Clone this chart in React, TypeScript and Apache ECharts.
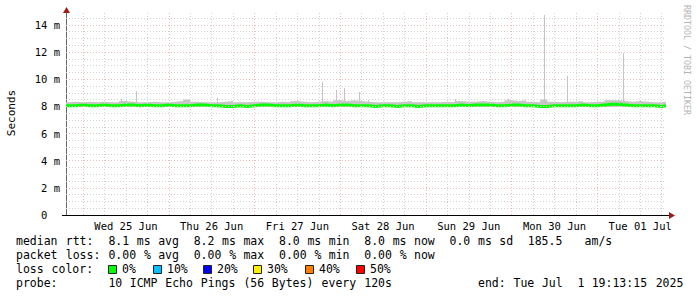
import React, { useEffect, useRef } from 'react';
import * as echarts from 'echarts';

// x values are hours since Tue 24 Jun 2025 00:00 (local)
const START_H = 19.2208; // Tue 24 Jun 19:13:15
const END_H = 187.2208; // Tue 01 Jul 19:13:15

// sample hours: start, every 2 h from 20 to 186, end
const sampleHours: number[] = [START_H];
for (let h = 20; h <= 186; h += 2) sampleHours.push(h);
sampleHours.push(END_H);

// median rtt (ms)
const medianMs = [
  8.05,
  8.05, 8.1, 8.05, 8.05, 8.1, 8.05, 8.05, 8.1, 8.1, 8.05,
  8.1, 8.05, 8.05, 8.1, 8.05, 8.05, 8.05, 8.1, 8.1, 8.05,
  8.05, 8.0, 8.0, 8.05, 8.0, 8.05, 8.1, 8.1, 8.05, 8.05,
  8.05, 8.1, 8.05, 8.05, 8.05, 8.1, 8.05, 8.1, 8.1, 8.05,
  8.05, 8.05, 8.0, 8.05, 8.05, 8.0, 8.05, 8.05, 8.0, 8.05,
  8.05, 8.05, 8.05, 8.05, 8.1, 8.05, 8.1, 8.1, 8.1, 8.05,
  8.05, 8.1, 8.1, 8.05, 8.05, 8.0, 8.0, 8.05, 8.05, 8.05,
  8.05, 8.1, 8.05, 8.05, 8.1, 8.15, 8.15, 8.1, 8.05, 8.05,
  8.05, 8.05, 8.0, 8.05,
  8.05,
];

// smoke (ping spread) upper edge (ms)
const smokeTopMs = [
  8.3,
  8.35, 8.3, 8.35, 8.3, 8.35, 8.3, 8.3, 8.4, 8.35, 8.3,
  8.3, 8.35, 8.3, 8.3, 8.35, 8.4, 8.5, 8.35, 8.3, 8.3,
  8.3, 8.35, 8.4, 8.3, 8.3, 8.35, 8.35, 8.3, 8.3, 8.35,
  8.3, 8.4, 8.35, 8.3, 8.35, 8.4, 8.35, 8.45, 8.4, 8.45,
  8.4, 8.35, 8.3, 8.3, 8.3, 8.3, 8.35, 8.4, 8.3, 8.3,
  8.3, 8.3, 8.35, 8.3, 8.4, 8.35, 8.35, 8.4, 8.35, 8.3,
  8.35, 8.45, 8.4, 8.45, 8.35, 8.3, 8.5, 8.35, 8.3, 8.35,
  8.35, 8.4, 8.3, 8.35, 8.35, 8.45, 8.45, 8.4, 8.35, 8.4,
  8.35, 8.3, 8.3, 8.35,
  8.3,
];

// smoke lower edge (ms), hidden under the median band
const SMOKE_FLOOR_MS = 7.95;

// isolated slow pings: [hour, ms]
const spikeHours = [34.6, 38.8, 61.5, 90.9, 94.8, 97.1, 101.3, 103.8, 128.1, 143.0, 153.1, 159.5, 175.2];
const spikeMs = [8.55, 9.14, 8.64, 9.8, 9.2, 9.36, 9.06, 8.47, 8.55, 8.55, 14.74, 10.24, 11.94];
const spikeBaseMs = 8.2;

const dayLabelHours = [36, 60, 84, 108, 132, 156, 180];
const dayLabels = ['Wed 25 Jun', 'Thu 26 Jun', 'Fri 27 Jun', 'Sat 28 Jun', 'Sun 29 Jun', 'Mon 30 Jun', 'Tue 01 Jul'];
const midnightHours = [24, 48, 72, 96, 120, 144, 168];
const yMajorTicks = [0, 2, 4, 6, 8, 10, 12, 14];
const Y_MAX = 14.88;

const legendLines = [
  'median rtt:  8.1 ms avg  8.2 ms max  8.0 ms min  8.0 ms now  0.0 ms sd  185.5   am/s',
  'packet loss: 0.00 % avg  0.00 % max  0.00 % min  0.00 % now',
  'loss color:',
  'probe:       10 ICMP Echo Pings (56 Bytes) every 120s            end: Tue Jul  1 19:13:15 2025',
];
const lossLabels = ['0%', '10%', '20%', '30%', '40%', '50%'];
const lossColors = ['#00ff00', '#00c0ff', '#0000ff', '#ffee00', '#ff8000', '#ff0000'];

const MONO = '"DejaVu Sans Mono", monospace';
const MINOR_GRID = '#d2d2d2';
const MAJOR_GRID = '#ebbcbc';

export default function App() {
  const ref = useRef<HTMLDivElement>(null);

  useEffect(() => {
    if (!ref.current) return;
    const chart = echarts.init(ref.current, null, { renderer: 'svg' });

    const minorV: number[] = [];
    for (let h = 24; h < END_H; h += 6) if (h % 24 !== 0) minorV.push(h);
    const minorH: number[] = [];
    for (let v = 0.5; v < Y_MAX; v += 0.5) if (v % 2 !== 0) minorH.push(v);

    const gridLines: any[] = [];
    minorV.forEach((h) => gridLines.push({ xAxis: h, lineStyle: { color: MINOR_GRID, type: [1, 2], width: 1 } }));
    minorH.forEach((v) => gridLines.push({ yAxis: v, lineStyle: { color: MINOR_GRID, type: [1, 2], width: 1 } }));
    midnightHours.forEach((h) => gridLines.push({ xAxis: h, lineStyle: { color: MAJOR_GRID, type: [1, 2], width: 1 } }));
    yMajorTicks.filter((v) => v > 0).forEach((v) => gridLines.push({ yAxis: v, lineStyle: { color: MAJOR_GRID, type: [1, 2], width: 1 } }));

    const smokeData = sampleHours.map((h, i) => [h, smokeTopMs[i]]);
    const medData = sampleHours.map((h, i) => [h, medianMs[i]]);
    const spikeLines = spikeHours.map((h, i) => [{ coord: [h, spikeBaseMs] }, { coord: [h, spikeMs[i]] }]);

    const CW = 7.107;
    const LX = 16;
    const lineY = [241, 255, 269, 283];
    const textEls: any[] = [];
    legendLines.forEach((str, li) => {
      const re = /\S+/g;
      let m: RegExpExecArray | null;
      while ((m = re.exec(str))) {
        textEls.push({
          type: 'text',
          x: LX + m.index * CW,
          y: lineY[li],
          silent: true,
          style: { text: m[0], font: `11.5px ${MONO}`, fill: '#000', textAlign: 'left', textVerticalAlign: 'middle', align: 'left', verticalAlign: 'middle' },
        });
      }
    });
    const boxX = [108, 153, 203, 253, 305, 356];
    lossLabels.forEach((lab, i) => {
      textEls.push({ type: 'rect', shape: { x: boxX[i] + 0.5, y: 265.5, width: 8, height: 8 }, silent: true, style: { fill: lossColors[i], stroke: '#222', lineWidth: 1 } });
      textEls.push({
        type: 'text', x: boxX[i] + 14, y: 269, silent: true,
        style: { text: lab, font: `11.5px ${MONO}`, fill: '#000', textAlign: 'left', textVerticalAlign: 'middle', align: 'left', verticalAlign: 'middle' },
      });
    });

    chart.setOption({
      animation: false,
      backgroundColor: '#ffffff',
      grid: { left: 66, right: 31, top: 13, bottom: 82, containLabel: false },
      xAxis: {
        type: 'value',
        min: START_H,
        max: END_H,
        axisLine: { show: true, lineStyle: { color: '#000', width: 1 } },
        axisTick: { show: false },
        splitLine: { show: false },
        axisLabel: {
          customValues: dayLabelHours,
          formatter: (v: number) => dayLabels[Math.round((v - 36) / 24)] ?? '',
          fontFamily: MONO,
          fontSize: 10.5,
          color: '#000',
          margin: 5,
        },
      },
      yAxis: {
        type: 'value',
        min: 0,
        max: Y_MAX,
        axisLine: { show: true, lineStyle: { color: '#666', width: 1 } },
        axisTick: { show: false },
        splitLine: { show: false },
        axisLabel: {
          customValues: yMajorTicks,
          formatter: (v: number) => (v === 0 ? '0\u00a0\u00a0' : `${v} m`),
          fontFamily: MONO,
          fontSize: 10.5,
          color: '#000',
          margin: 6,
        },
      },
      series: [
        {
          name: 'grid', type: 'line', data: [], z: 1, silent: true,
          markLine: { silent: true, symbol: ['none', 'none'], label: { show: false }, animation: false, data: gridLines },
        },
        {
          name: 'smoke', type: 'line', step: 'end', data: smokeData, symbol: 'none', z: 2, silent: true,
          lineStyle: { width: 0, opacity: 0 },
          areaStyle: { color: '#c6c6c6', opacity: 1, origin: SMOKE_FLOOR_MS },
        },
        {
          name: 'spikes', type: 'line', data: [], z: 2, silent: true,
          markLine: { silent: true, symbol: ['none', 'none'], label: { show: false }, animation: false, lineStyle: { color: '#c4c4c4', width: 1, type: 'solid' }, data: spikeLines },
        },
        {
          name: 'median', type: 'line', step: 'end', data: medData, symbol: 'none', z: 3, silent: true,
          lineStyle: { color: '#00ff00', width: 3 },
        },
      ],
      graphic: [
        { type: 'line', silent: true, shape: { x1: 62, y1: 215.5, x2: 670, y2: 215.5 }, style: { stroke: '#000', lineWidth: 1 } },
        { type: 'polygon', silent: true, shape: { points: [[669, 212], [675, 215.5], [669, 219]] }, style: { fill: '#a01a1a' } },
        { type: 'polygon', silent: true, shape: { points: [[63, 13], [66.5, 7], [70, 13]] }, style: { fill: '#a01a1a' } },
        {
          type: 'text', x: 11, y: 113, rotation: Math.PI / 2, silent: true,
          style: { text: 'Seconds', font: `11px ${MONO}`, fill: '#000', textAlign: 'center', textVerticalAlign: 'middle', align: 'center', verticalAlign: 'middle' },
        },
        {
          type: 'text', x: 687, y: 5, rotation: -Math.PI / 2, silent: true,
          style: { text: 'RRDTOOL / TOBI OETIKER', font: `8.3px ${MONO}`, fill: '#b4b4b4', textAlign: 'left', textVerticalAlign: 'middle', align: 'left', verticalAlign: 'middle' },
        },
        ...textEls,
      ],
    });

    return () => chart.dispose();
  }, []);

  return <div ref={ref} style={{ position: 'fixed', left: 0, top: 0, width: 697, height: 297 }} />;
}
